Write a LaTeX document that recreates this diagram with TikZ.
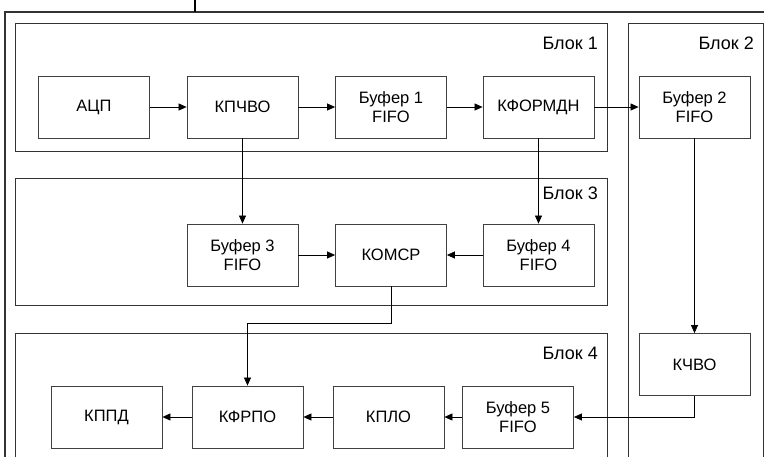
\documentclass[tikz,border=0pt]{standalone}
\usepackage{fontspec}
\setmainfont{Liberation Sans}
\usetikzlibrary{arrows.meta}

\tikzset{
  unit/.style={draw=black!75, line width=0.8pt, minimum width=111pt, minimum height=62pt,
    inner sep=0pt, align=center, font=\fontsize{16.5}{19}\selectfont},
  frame/.style={draw=black!80, line width=0.9pt},
  blocklabel/.style={anchor=east, inner sep=0pt, font=\fontsize{18}{20}\selectfont},
  link/.style={draw=black, line width=0.7pt, -{Triangle[length=8pt,width=7pt]}},
}

\begin{document}
\begin{tikzpicture}[x=1pt,y=-1pt]
    \useasboundingbox (0,0) rectangle (764,456);
    \clip (0,0) rectangle (764,456);

    % outer frame and blocks
    \draw[black!80, line width=1.4pt] (5,12) rectangle (790,490);
    \draw[black, line width=1.6pt] (195,-5) -- (195,12);
    \draw[frame] (15,23) rectangle (607,151);
    \draw[frame] (628,23) rectangle (763,480);
    \draw[frame] (15,178) rectangle (607,305);
    \draw[frame] (15,333) rectangle (607,480);

    \node[blocklabel] (lab1) at (598,43) {Блок 1};
    \node[blocklabel] (lab2) at (754,43) {Блок 2};
    \node[blocklabel] (lab3) at (598,193) {Блок 3};
    \node[blocklabel] (lab4) at (598,353) {Блок 4};

    % units
    \node[unit] (adc)     at (94,107)    {АЦП};
    \node[unit] (kpchvo)  at (242.5,107) {КПЧВО};
    \node[unit] (buf1)    at (391,107)   {Буфер 1\\FIFO};
    \node[unit] (kformdn) at (538.5,107) {КФОРМДН};
    \node[unit] (buf2)    at (694.5,107) {Буфер 2\\FIFO};

    \node[unit] (buf3)    at (242.5,255) {Буфер 3\\FIFO};
    \node[unit] (komsr)   at (391,255)   {КОМСР};
    \node[unit] (buf4)    at (538.5,255) {Буфер 4\\FIFO};

    \node[unit] (kchvo)   at (694.5,364.5) {КЧВО};

    \node[unit] (kppd)    at (106.5,417) {КППД};
    \node[unit] (kfrpo)   at (247.5,417) {КФРПО};
    \node[unit] (kplo)    at (388.5,417) {КПЛО};
    \node[unit] (buf5)    at (518,417)   {Буфер 5\\FIFO};

    % links
    \draw[link] (adc) -- (kpchvo);
    \draw[link] (kpchvo) -- (buf1);
    \draw[link] (buf1) -- (kformdn);
    \draw[link] (kformdn) -- (buf2);

    \draw[link] (kpchvo.south) -- (buf3.north);
    \draw[link] (kformdn.south) -- (buf4.north);
    \draw[link] (buf3) -- (komsr);
    \draw[link] (buf4) -- (komsr);

    \draw[link] (komsr.south) -- ++(0,37) -| (kfrpo.north);
    \draw[link] (buf2.south) -- (kchvo.north);
    \draw[link] (kchvo.south) |- (buf5.east);

    \draw[link] (buf5) -- (kplo);
    \draw[link] (kplo) -- (kfrpo);
    \draw[link] (kfrpo) -- (kppd);
\end{tikzpicture}
\end{document}
